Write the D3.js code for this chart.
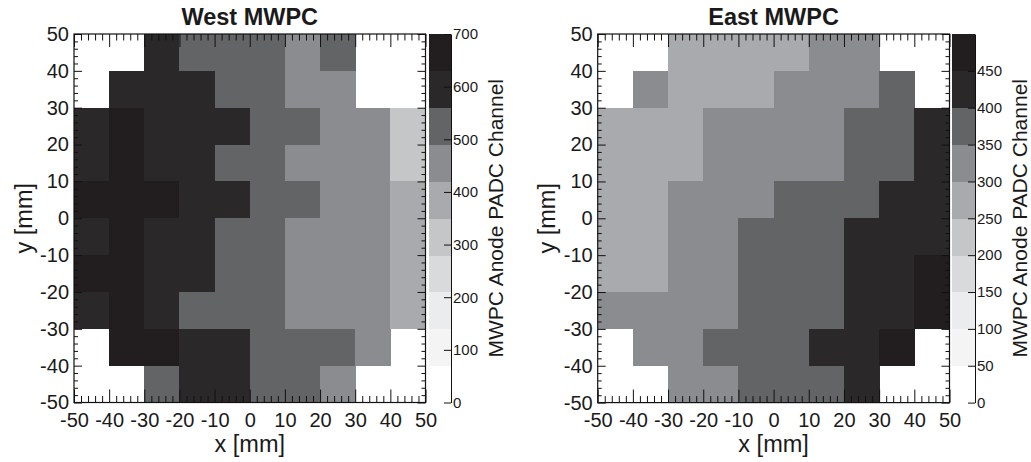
<!DOCTYPE html>
<html>
<head>
<meta charset="utf-8">
<script src="https://cdn.jsdelivr.net/npm/d3@7/dist/d3.min.js"></script>
<style>
  html, body { margin: 0; padding: 0; background: #ffffff; }
  svg { display: block; }
  text { font-family: "Liberation Sans", Arial, Helvetica, sans-serif; fill: #1a1a1a; }
</style>
</head>
<body>
<svg id="chart" width="1031" height="462"></svg>
<script>
// ---------------- data ----------------
// bin edges (mm), 10 x 10 pads
const xEdges = [-50, -40, -30, -20, -10, 0, 10, 20, 30, 40, 50];
const yEdges = [-50, -40, -30, -20, -10, 0, 10, 20, 30, 40, 50];
const xTickLabels = [-50, -40, -30, -20, -10, 0, 10, 20, 30, 40, 50];
const yTickLabels = [-50, -40, -30, -20, -10, 0, 10, 20, 30, 40, 50];

// rows listed from top (y 40..50) to bottom (y -50..-40); null = empty bin
const westValues = [
  [null, null, 595, 525, 525, 525, 455, 525, null, null],
  [null, 595, 595, 595, 525, 525, 455, 455, null, null],
  [595, 665, 595, 595, 595, 525, 525, 455, 455, 315],
  [595, 665, 595, 595, 525, 525, 455, 455, 455, 315],
  [665, 665, 665, 595, 595, 525, 525, 455, 455, 385],
  [595, 665, 595, 595, 525, 525, 455, 455, 455, 385],
  [665, 665, 595, 595, 525, 525, 455, 455, 455, 385],
  [595, 665, 595, 525, 525, 525, 455, 455, 455, 385],
  [null, 665, 665, 595, 595, 525, 525, 525, 455, null],
  [null, null, 525, 595, 595, 525, 525, 455, null, null]
];
const eastValues = [
  [null, null, 275, 275, 275, 275, 325, 325, null, null],
  [null, 325, 275, 275, 275, 325, 325, 325, 375, null],
  [275, 275, 275, 325, 325, 325, 325, 375, 375, 425],
  [275, 275, 275, 325, 325, 325, 325, 375, 375, 425],
  [275, 275, 325, 325, 325, 375, 375, 375, 425, 425],
  [275, 275, 325, 325, 375, 375, 375, 425, 425, 425],
  [275, 275, 325, 325, 375, 375, 375, 425, 425, 475],
  [325, 325, 325, 325, 375, 375, 375, 425, 425, 475],
  [null, 325, 325, 375, 375, 375, 425, 425, 475, null],
  [null, null, 325, 325, 375, 375, 375, 425, null, null]
];

const westZRange = [0, 700];
const eastZRange = [0, 500];
const westZTicks = [0, 100, 200, 300, 400, 500, 600, 700];
const eastZTicks = [0, 50, 100, 150, 200, 250, 300, 350, 400, 450];

// 10-level gray palette, low -> high
const palette = ["#ffffff", "#f4f4f4", "#ebeced", "#d9dadb", "#c5c6c8",
                 "#a8aaad", "#8b8c8f", "#636466", "#2b2829", "#221e1f"];

const titles = ["West MWPC", "East MWPC"];
const xTitle = "x [mm]";
const yTitle = "y [mm]";
const zTitle = "MWPC Anode PADC Channel";

// ---------------- layout ----------------
const panels = [
  { title: titles[0], values: westValues, zRange: westZRange, zTicks: westZTicks,
    x0: 74, x1: 425.5, y0: 34, y1: 402.5, cb0: 429, cb1: 451 },
  { title: titles[1], values: eastValues, zRange: eastZRange, zTicks: eastZTicks,
    x0: 597.7, x1: 949.5, y0: 34, y1: 402.6, cb0: 952, cb1: 975 }
];

const svg = d3.select("#chart");
const majors = d3.range(-50, 51, 10);
const minors = d3.range(-50, 51, 2).filter(v => v % 10 !== 0);
const fmt = d => String(d); // plain hyphen-minus as in the original

panels.forEach(p => {
  const g = svg.append("g");
  const x = d3.scaleLinear().domain([xEdges[0], xEdges[xEdges.length - 1]]).range([p.x0, p.x1]);
  const y = d3.scaleLinear().domain([yEdges[0], yEdges[yEdges.length - 1]]).range([p.y1, p.y0]);
  const color = d3.scaleQuantize().domain(p.zRange).range(palette);

  // cells
  const cells = [];
  p.values.forEach((row, ri) => {
    const yi = yEdges.length - 2 - ri; // row index from bottom
    row.forEach((v, ci) => {
      if (v !== null) cells.push({ x0: xEdges[ci], x1: xEdges[ci + 1], y0: yEdges[yi], y1: yEdges[yi + 1], v });
    });
  });
  g.append("g").selectAll("rect").data(cells).join("rect")
    .attr("x", d => x(d.x0))
    .attr("y", d => y(d.y1))
    .attr("width", d => x(d.x1) - x(d.x0) + 0.4)
    .attr("height", d => y(d.y0) - y(d.y1) + 0.4)
    .attr("fill", d => color(d.v))
    .attr("shape-rendering", "crispEdges");

  // axes: majors with labels (bottom/left), ticks on all sides
  const styleAxis = sel => {
    sel.select(".domain").remove();
    sel.selectAll("line").attr("stroke", "#111").attr("stroke-width", 1);
  };
  const styleLabels = s => s.selectAll("text").attr("font-size", 20).attr("fill", "#1a1a1a")
    .attr("font-family", '"Liberation Sans", Arial, sans-serif');

  g.append("g").attr("transform", `translate(0,${p.y1})`)
    .call(d3.axisBottom(x).tickValues(xTickLabels).tickSize(-13).tickPadding(10).tickFormat(fmt))
    .call(styleAxis).call(styleLabels);
  g.append("g").attr("transform", `translate(0,${p.y1})`)
    .call(d3.axisBottom(x).tickValues(minors).tickSize(-6.5).tickFormat(""))
    .call(styleAxis);
  g.append("g").attr("transform", `translate(0,${p.y0})`)
    .call(d3.axisTop(x).tickValues(majors).tickSize(-13).tickFormat(""))
    .call(styleAxis);
  g.append("g").attr("transform", `translate(0,${p.y0})`)
    .call(d3.axisTop(x).tickValues(minors).tickSize(-6.5).tickFormat(""))
    .call(styleAxis);

  g.append("g").attr("transform", `translate(${p.x0},0)`)
    .call(d3.axisLeft(y).tickValues(yTickLabels).tickSize(-8).tickPadding(5).tickFormat(fmt))
    .call(styleAxis).call(styleLabels);
  g.append("g").attr("transform", `translate(${p.x0},0)`)
    .call(d3.axisLeft(y).tickValues(minors).tickSize(-4).tickFormat(""))
    .call(styleAxis);
  g.append("g").attr("transform", `translate(${p.x1},0)`)
    .call(d3.axisRight(y).tickValues(majors).tickSize(-8).tickFormat(""))
    .call(styleAxis);
  g.append("g").attr("transform", `translate(${p.x1},0)`)
    .call(d3.axisRight(y).tickValues(minors).tickSize(-4).tickFormat(""))
    .call(styleAxis);

  // frame
  g.append("rect")
    .attr("x", p.x0).attr("y", p.y0)
    .attr("width", p.x1 - p.x0).attr("height", p.y1 - p.y0)
    .attr("fill", "none").attr("stroke", "#111").attr("stroke-width", 1.2);

  // titles
  g.append("text")
    .attr("x", (p.x0 + p.x1) / 2).attr("y", 25)
    .attr("text-anchor", "middle").attr("font-weight", "bold").attr("font-size", 23.5)
    .text(p.title);
  g.append("text")
    .attr("x", (p.x0 + p.x1) / 2).attr("y", 451.7)
    .attr("text-anchor", "middle").attr("font-size", 23.5)
    .text(xTitle);
  g.append("text")
    .attr("transform", `translate(${p.x0 - 42.5},${(p.y0 + p.y1) / 2}) rotate(-90)`)
    .attr("text-anchor", "middle").attr("font-size", 23.5)
    .text(yTitle);

  // colour bar
  const z = d3.scaleLinear().domain(p.zRange).range([p.y1, p.y0]);
  const bands = palette.map(c => ({ c, ext: color.invertExtent(c) }));
  g.append("g").selectAll("rect").data(bands).join("rect")
    .attr("x", p.cb0)
    .attr("y", d => z(d.ext[1]))
    .attr("width", p.cb1 - p.cb0)
    .attr("height", d => z(d.ext[0]) - z(d.ext[1]) + 0.4)
    .attr("fill", d => d.c)
    .attr("shape-rendering", "crispEdges");
  g.append("g").attr("transform", `translate(${p.cb1},0)`)
    .call(d3.axisRight(z).tickValues(p.zTicks).tickSize(-7).tickSizeOuter(0).tickPadding(2).tickFormat(fmt))
    .call(s => {
      s.select(".domain").attr("stroke", "#111");
      s.selectAll("line").attr("stroke", "#111");
      s.selectAll("text").attr("font-size", 15).attr("fill", "#1a1a1a")
        .attr("font-family", '"Liberation Sans", Arial, sans-serif');
    });
  g.append("text")
    .attr("transform", `translate(${p.cb1 + 51.5},${(p.y0 + p.y1) / 2}) rotate(-90)`)
    .attr("text-anchor", "middle").attr("font-size", 21)
    .text(zTitle);
});
</script>
</body>
</html>
